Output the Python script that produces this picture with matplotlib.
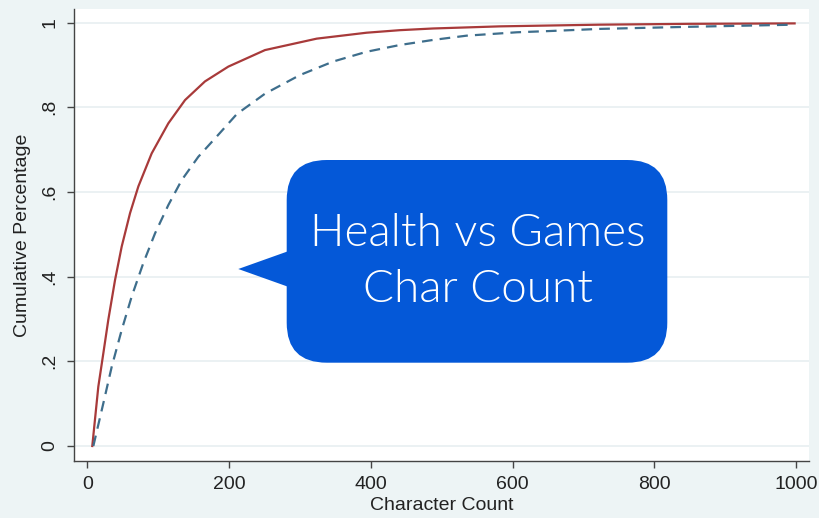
import matplotlib
matplotlib.use("Agg")
import matplotlib.pyplot as plt
from matplotlib.patches import FancyBboxPatch, Polygon
from matplotlib.transforms import IdentityTransform

# ---- data ----
health_x = [7, 15.5, 22.6, 29.6, 39.1, 48.5, 60.3, 72, 90.8, 114.3, 137.9, 166, 199,
            250.7, 323.7, 394, 441, 488, 582, 723, 850, 998]
health_y = [0.0, 0.14, 0.219, 0.298, 0.392, 0.471, 0.55, 0.613, 0.691, 0.762, 0.817, 0.861, 0.896,
            0.935, 0.962, 0.976, 0.982, 0.986, 0.991, 0.995, 0.997, 0.998]

games_x = [8.5, 22.6, 34.4, 48.5, 62.6, 79, 95.5, 114.3, 133.2, 156.6, 184.8, 211, 250.7,
           300, 347, 394, 441, 488, 535, 606, 653, 723, 850, 998]
games_y = [0.0, 0.101, 0.187, 0.274, 0.353, 0.432, 0.502, 0.569, 0.628, 0.683, 0.735, 0.784, 0.832,
           0.876, 0.908, 0.931, 0.947, 0.959, 0.969, 0.977, 0.98, 0.985, 0.99, 0.995]

x_ticks = [0, 200, 400, 600, 800, 1000]
x_ticklabels = ["0", "200", "400", "600", "800", "1000"]
y_ticks = [0, 0.2, 0.4, 0.6, 0.8, 1.0]
y_ticklabels = ["0", ".2", ".4", ".6", ".8", "1"]

x_label = "Character Count"
y_label = "Cumulative Percentage"
bubble_lines = ["Health vs Games", "Char Count"]

# ---- figure ----
W, H = 819, 518
fig = plt.figure(figsize=(W / 100, H / 100), dpi=100)
bg = "#edf4f5"
fig.patch.set_facecolor(bg)

plt.rcParams["font.family"] = ["Liberation Sans", "DejaVu Sans"]

ax = fig.add_axes([74 / W, 1 - 461 / H, (809 - 74) / W, (461 - 9) / H])
ax.set_facecolor("white")
ax.set_xlim(-18.8, 1018.3)
ax.set_ylim(-0.0354, 1.032)

for s in ["top", "right"]:
    ax.spines[s].set_visible(False)
for s in ["left", "bottom"]:
    ax.spines[s].set_color("#444444")
    ax.spines[s].set_linewidth(1.0)

ax.set_xticks(x_ticks)
ax.set_xticklabels(x_ticklabels, fontsize=14, color="#222222")
ax.set_yticks(y_ticks)
ax.set_yticklabels(y_ticklabels, fontsize=14, color="#222222", rotation=90, va="center")
ax.tick_params(axis="both", length=5, width=1, color="#444444", pad=6)

ax.grid(axis="y", color="#e7eff1", linewidth=1.2)
ax.set_axisbelow(True)

ax.plot(health_x, health_y, color="#a83a3a", linewidth=1.6, solid_joinstyle="round", zorder=3)
ax.plot(games_x, games_y, color="#3e6e8c", linewidth=1.6, linestyle=(0, (4.8, 3.2)), zorder=3)

ax.set_xlabel(x_label, fontsize=14, color="#222222", labelpad=3)
ax.set_ylabel(y_label, fontsize=14, color="#222222", labelpad=8)

# ---- callout bubble (pixel coordinates) ----
blue = "#0458d8"
rx0, rx1 = 286.7, 667.3
ry0, ry1 = H - 362.7, H - 160
box = FancyBboxPatch((rx0, ry0), rx1 - rx0, ry1 - ry0,
                     boxstyle="round,pad=0,rounding_size=40",
                     transform=IdentityTransform(), facecolor=blue, edgecolor="none",
                     zorder=5)
fig.patches.append(box)
tri = Polygon([[238.3, H - 269], [300, H - 247], [300, H - 291]], closed=True,
              transform=IdentityTransform(), facecolor=blue, edgecolor="none", zorder=5)
fig.patches.append(tri)

cx = 477.5 / W
fig.text(cx, 1 - 233 / H, bubble_lines[0], fontsize=33, color="white", ha="center", va="center",
         family=["Lato", "DejaVu Sans"], fontweight=300, zorder=6)
fig.text(cx, 1 - 290 / H, bubble_lines[1], fontsize=33, color="white", ha="center", va="center",
         family=["Lato", "DejaVu Sans"], fontweight=300, zorder=6)

fig.savefig("out.png", dpi=100, facecolor=bg)
